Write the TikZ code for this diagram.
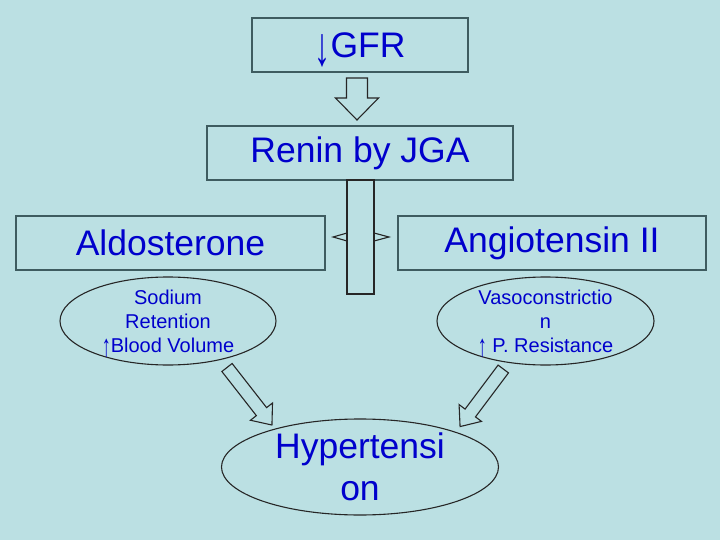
\documentclass[tikz,border=0pt]{standalone}
\usepackage{graphicx}
\usepackage{fontspec}
\setmainfont{Liberation Sans}
\usetikzlibrary{shapes.geometric,calc}
\definecolor{slidebg}{RGB}{187,224,227}
\definecolor{boxline}{RGB}{62,92,96}
\definecolor{txtblue}{RGB}{0,0,204}
\newcommand{\tallarr}[1]{\raisebox{-0.22em}[0pt][0pt]{\scalebox{0.9}[1.55]{#1}}}

\begin{document}
\begin{tikzpicture}[x=1pt,y=-1pt,line join=miter,
  box/.style={draw=boxline,line width=1.5pt,minimum height=54pt,inner sep=0pt,text=txtblue,font=\fontsize{35.5}{42}\selectfont},
  oval/.style={ellipse,draw=black!85,line width=1.1pt,inner sep=0pt},
  ovaltext/.style={text=txtblue,align=center,inner sep=0pt,font=\fontsize{20}{24}\selectfont},
  bigtext/.style={text=txtblue,align=center,inner sep=0pt,font=\fontsize{35.5}{42}\selectfont},
  pics/blockarr/.style n args={4}{code={
    \draw[line width=1.1pt,draw=black!85] (0,-#2) -- ({#1-#4},-#2) -- ({#1-#4},-#3) -- (#1,0)
      -- ({#1-#4},#3) -- ({#1-#4},#2) -- (0,#2) -- cycle;}}]
\path[use as bounding box,fill=slidebg] (0,0) rectangle (720,540);

%% Top of the chain
\node (GFR)   [box,minimum width=216pt] at (360,45)  {\tallarr{↓}GFR};
\node (Renin) [box,minimum width=306pt] at (360,153) {Renin by JGA};
\pic[rotate=-90] at (357,78) {blockarr={42}{10.5}{21.5}{22}};

%% Split into the two branches
\draw[line width=1.1pt,draw=black!85] (347,180) rectangle (374,294);
\draw[line width=1.1pt,draw=black!85] (347,233) -- (333,237) -- (347,241);
\draw[line width=1.1pt,draw=black!85] (374,233) -- (389,237) -- (374,241);

\node (Aldo)  [box,minimum width=309pt] at (170.5,243) {Aldosterone};
\node (Angio) [box,minimum width=308pt] at (552,243)   {Angiotensin II};

%% Effects
\node (Sodium) [oval,minimum width=216pt,minimum height=88pt,
                label={[ovaltext]center:Sodium\\Retention\\\tallarr{↑}Blood Volume}] at (168,321) {};
\node (Vaso)   [oval,minimum width=217pt,minimum height=88pt,
                label={[ovaltext]center:Vasoconstrictio\\n\\\tallarr{↑} P. Resistance}] at (545.5,321) {};

%% Result
\node (Hyper)  [oval,minimum width=277pt,minimum height=96pt,
                label={[bigtext]center:Hypertensi\\on}] at (360,467) {};
\pic[rotate=-52]    at (227,367.5) {blockarr={73}{6.5}{14}{17}};
\pic[rotate=-126.9] at (503.3,369) {blockarr={72}{6.5}{14}{17}};
\end{tikzpicture}
\end{document}
